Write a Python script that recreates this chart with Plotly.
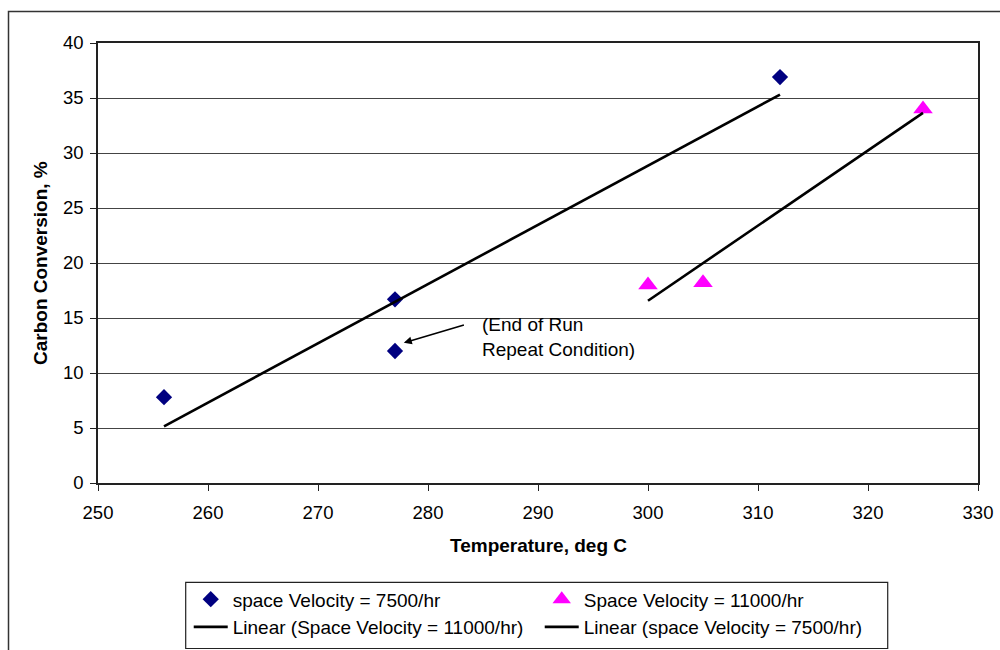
import numpy as np
import plotly.graph_objects as go

# ---- data ----
temp_7500 = [256, 277, 277, 312]
conv_7500 = [7.8, 16.7, 12.0, 36.9]
temp_11000 = [300, 305, 325]
conv_11000 = [18.0, 18.2, 34.0]

name_7500 = "space Velocity = 7500/hr"
name_11000 = "Space Velocity = 11000/hr"
name_fit_11000 = "Linear (Space Velocity = 11000/hr)"
name_fit_7500 = "Linear (space Velocity = 7500/hr)"

x_ticks = [250, 260, 270, 280, 290, 300, 310, 320, 330]
y_ticks = [0, 5, 10, 15, 20, 25, 30, 35, 40]

FONT = "Liberation Sans, Arial, sans-serif"


def linear_fit(xs, ys):
    slope, intercept = np.polyfit(xs, ys, 1)
    xe = [min(xs), max(xs)]
    return xe, [slope * v + intercept for v in xe]


fx7, fy7 = linear_fit(temp_7500, conv_7500)
fx11, fy11 = linear_fit(temp_11000, conv_11000)

fig = go.Figure()
fig.add_trace(go.Scatter(x=temp_7500, y=conv_7500, mode="markers", name=name_7500,
                         marker=dict(symbol="diamond", size=12.5, color="#000080")))
fig.add_trace(go.Scatter(x=temp_11000, y=conv_11000, mode="markers", name=name_11000,
                         marker=dict(symbol="triangle-up", size=17, color="#FF00FF")))
fig.add_trace(go.Scatter(x=fx11, y=fy11, mode="lines", name=name_fit_11000,
                         line=dict(color="black", width=2.6)))
fig.add_trace(go.Scatter(x=fx7, y=fy7, mode="lines", name=name_fit_7500,
                         line=dict(color="black", width=2.6)))

axis_common = dict(showline=True, linecolor="#222", linewidth=1.5, mirror=True,
                   ticks="outside", ticklen=6, tickwidth=1.2, tickcolor="#222",
                   tickfont=dict(family=FONT, size=18.5, color="black"), zeroline=False,
                   automargin=False)

fig.update_xaxes(range=[250, 330], tickvals=x_ticks, showgrid=False,
                 ticklabelstandoff=6, **axis_common)
fig.update_yaxes(range=[0, 40], tickvals=y_ticks, showgrid=True, gridcolor="#444",
                 gridwidth=1, ticklabelstandoff=3, **axis_common)

fig.update_layout(
    width=1000, height=650,
    margin=dict(l=98, r=22, t=43, b=167, autoexpand=False),
    paper_bgcolor="white", plot_bgcolor="white",
    font=dict(family=FONT, size=19, color="black"),
    showlegend=True,
    legend=dict(orientation="h", x=0.1031, y=-0.2212, xanchor="left", yanchor="top",
                borderwidth=0, bgcolor="rgba(0,0,0,0)",
                entrywidthmode="pixels", entrywidth=302, itemwidth=34,
                font=dict(family=FONT, size=19, color="black"),
                tracegroupgap=0, traceorder="normal"),
    annotations=[
        dict(text="<b>Temperature, deg C</b>", xref="paper", yref="paper",
             x=0.5, y=-0.143, xanchor="center", yanchor="middle", showarrow=False,
             font=dict(family=FONT, size=19, color="black")),
        dict(text="<b>Carbon Conversion, %</b>", xref="paper", yref="paper",
             x=-0.0659, y=0.5, xanchor="center", yanchor="middle", textangle=-90,
             showarrow=False, font=dict(family=FONT, size=19, color="black")),
        dict(text="(End of Run<br>Repeat Condition)", xref="x", yref="y",
             x=284.7, y=13.3, xanchor="left", yanchor="middle", align="left",
             showarrow=False, font=dict(family=FONT, size=19, color="black")),
        dict(text="", xref="x", yref="y", x=277.8, y=12.75,
             axref="x", ayref="y", ax=283.4, ay=14.4,
             showarrow=True, arrowhead=2, arrowsize=1, arrowwidth=1.6, arrowcolor="black"),
    ],
    shapes=[
        # outer chart frame
        dict(type="rect", xref="paper", yref="paper",
             x0=-0.1017, y0=-0.40, x1=1.035, y1=1.0716,
             line=dict(color="#333", width=1.5), fillcolor="rgba(0,0,0,0)", layer="below"),
        # legend box
        dict(type="rect", xref="paper", yref="paper",
             x0=0.09966, y0=-0.3761, x1=0.8974, y1=-0.2257,
             line=dict(color="#222", width=1.2), fillcolor="white", layer="below"),
    ],
)

fig.write_html("out.html")
